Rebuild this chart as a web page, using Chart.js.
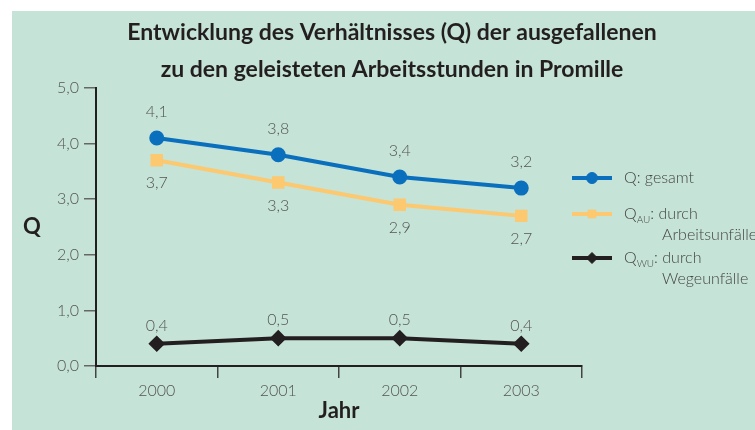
<!DOCTYPE html>
<html>
<head>
<meta charset="utf-8">
<script src="https://cdn.jsdelivr.net/npm/chart.js@4"></script>
<style>
  body { margin: 0; background: #fff; }
  #wrap { position: absolute; left: 12px; top: 11px; width: 743px; height: 419px; background: #c5e3d6; }
</style>
</head>
<body>
<div id="wrap"><canvas id="myChart" width="743" height="419"></canvas></div>
<script>
// data
var years = ['2000', '2001', '2002', '2003'];
var gesamt = [4.1, 3.8, 3.4, 3.2];
var arbeitsunfaelle = [3.7, 3.3, 2.9, 2.7];
var wegeunfaelle = [0.4, 0.5, 0.5, 0.4];
var yTicks = [0, 1, 2, 3, 4, 5];

var fontName = "'Lato', 'Noto Sans', sans-serif";
var titleFont = "'Lato', 'Open Sans', sans-serif";

function komma(v) {
    return v.toFixed(1).replace('.', ',');
}

// value labels next to each point
var valueLabels = {
    id: 'valueLabels',
    afterDatasetsDraw: function (chart) {
        var ctx = chart.ctx;
        ctx.save();
        ctx.font = '300 16px ' + fontName;
        ctx.fillStyle = '#555';
        ctx.textAlign = 'center';
        ctx.textBaseline = 'middle';
        chart.data.datasets.forEach(function (ds, i) {
            var meta = chart.getDatasetMeta(i);
            meta.data.forEach(function (pt, j) {
                ctx.fillText(komma(ds.data[j]), pt.x, pt.y + ds.labelOffset);
            });
        });
        ctx.restore();
    }
};

// title, axis names and legend with subscripts
var extraText = {
    id: 'extraText',
    afterDraw: function (chart) {
        var ctx = chart.ctx;
        ctx.save();
        ctx.fillStyle = '#231f20';
        ctx.textBaseline = 'middle';
        ctx.textAlign = 'center';
        ctx.font = 'bold 23px ' + titleFont;
        ctx.fillText('Entwicklung des Verhältnisses (Q) der ausgefallenen', 380, 22);
        ctx.fillText('zu den geleisteten Arbeitsstunden in Promille', 380, 59);

        ctx.font = 'bold 22px ' + titleFont;
        ctx.fillText('Q', 20, 216);
        ctx.fillText('Jahr', 327, 400);

        // legend
        var rows = [
            { ds: 0, y: 167, main: 'Q', sub: '', rest: ': gesamt', line2: '' },
            { ds: 1, y: 203, main: 'Q', sub: 'AU', rest: ': durch', line2: 'Arbeitsunfälle' },
            { ds: 2, y: 247, main: 'Q', sub: 'WU', rest: ': durch', line2: 'Wegeunfälle' }
        ];
        rows.forEach(function (r) {
            var ds = chart.data.datasets[r.ds];
            ctx.strokeStyle = ds.borderColor;
            ctx.lineWidth = ds.borderWidth;
            ctx.beginPath();
            ctx.moveTo(560, r.y);
            ctx.lineTo(600, r.y);
            ctx.stroke();
            ctx.fillStyle = ds.borderColor;
            ctx.lineWidth = 1;
            Chart.helpers.drawPoint(ctx, { pointStyle: ds.pointStyle, radius: 5.5, borderWidth: 1 }, 580, r.y);

            ctx.fillStyle = '#444';
            ctx.textAlign = 'left';
            ctx.font = '300 16px ' + fontName;
            var x = 612;
            ctx.fillText(r.main, x, r.y);
            x += ctx.measureText(r.main).width;
            if (r.sub) {
                ctx.font = '300 10px ' + fontName;
                ctx.fillText(r.sub, x, r.y + 6);
                x += ctx.measureText(r.sub).width;
                ctx.font = '300 16px ' + fontName;
            }
            ctx.fillText(r.rest, x, r.y);
            if (r.line2) {
                ctx.fillText(r.line2, 650, r.y + 21);
            }
        });
        ctx.restore();
    }
};

var chartdata = {
    labels: years,
    datasets: [{
        label: 'Q: gesamt',
        data: gesamt,
        borderColor: '#0a6fbd',
        backgroundColor: '#0a6fbd',
        borderWidth: 4,
        pointStyle: 'circle',
        pointRadius: 5.5,
        labelOffset: -26
    }, {
        label: 'QAU: durch Arbeitsunfälle',
        data: arbeitsunfaelle,
        borderColor: '#fcc870',
        backgroundColor: '#fcc870',
        borderWidth: 4,
        pointStyle: 'rect',
        pointRadius: 6,
        labelOffset: 23
    }, {
        label: 'QWU: durch Wegeunfälle',
        data: wegeunfaelle,
        borderColor: '#231f20',
        backgroundColor: '#231f20',
        borderWidth: 4,
        pointStyle: 'rectRot',
        pointRadius: 5.5,
        labelOffset: -18
    }]
};

var ctx = document.getElementById('myChart');
var lineChart = new Chart(ctx, {
    type: 'line',
    data: chartdata,
    plugins: [valueLabels, extraText],
    options: {
        responsive: false,
        animation: false,
        layout: { padding: { top: 77, right: 173, left: 0, bottom: 0 } },
        plugins: {
            legend: { display: false },
            title: { display: false },
            tooltip: { enabled: false }
        },
        elements: { line: { tension: 0 }, point: { borderWidth: 1 } },
        scales: {
            x: {
                offset: true,
                grid: { offset: true, drawOnChartArea: false, tickLength: 12, color: '#444', lineWidth: 1.5 },
                border: { color: '#231f20', width: 2 },
                ticks: { color: '#555', font: { family: fontName, size: 16, weight: '300' }, padding: 3 },
                afterFit: function (scale) { scale.height = 64; }
            },
            y: {
                min: 0,
                max: 5,
                afterBuildTicks: function (scale) {
                    scale.ticks = yTicks.map(function (v) { return { value: v }; });
                },
                grid: { drawOnChartArea: false, tickLength: 12, color: '#666', lineWidth: 1.5 },
                border: { color: '#231f20', width: 2 },
                ticks: {
                    color: '#555',
                    font: { family: fontName, size: 16, weight: '300' },
                    padding: 5,
                    callback: function (v) { return komma(v); }
                },
                afterFit: function (scale) { scale.width = 84; }
            }
        }
    }
});
</script>
</body>
</html>
